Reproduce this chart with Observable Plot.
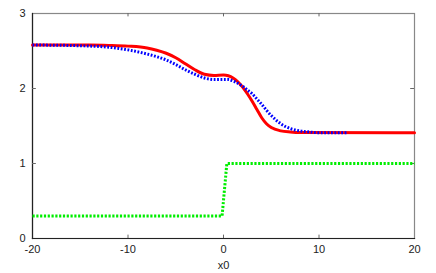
<!DOCTYPE html>
<html>
<head>
<meta charset="utf-8">
<script src="https://cdn.jsdelivr.net/npm/d3@7"></script>
<script src="https://cdn.jsdelivr.net/npm/@observablehq/plot@0.6"></script>
<style>
  html, body { margin: 0; padding: 0; background: #fff; }
</style>
</head>
<body>
<div id="chart"></div>
<script>
const xTicks = [-20, -10, 0, 10, 20];
const yTicks = [0, 1, 2, 3];

const redX = [-20, -14, -12, -10, -8, -7, -6, -5, -4, -3, -2, -1, 0, 0.5, 1, 1.5, 2, 2.5, 3, 3.5, 4, 4.5, 5, 6, 7, 8, 20];
const redY = [2.58, 2.58, 2.575, 2.565, 2.54, 2.51, 2.47, 2.41, 2.33, 2.25, 2.19, 2.175, 2.18, 2.17, 2.14, 2.09, 2.02, 1.93, 1.83, 1.72, 1.61, 1.53, 1.48, 1.435, 1.42, 1.413, 1.41];

const blueX = [-20, -15, -12, -10, -8, -7, -6, -5, -4, -3, -2, -1, 0, 0.5, 1, 1.5, 2, 2.5, 3, 3.5, 4, 4.5, 5, 5.5, 6, 7, 8, 9, 10, 13];
const blueY = [2.58, 2.57, 2.55, 2.515, 2.46, 2.425, 2.38, 2.32, 2.25, 2.19, 2.14, 2.12, 2.12, 2.12, 2.10, 2.07, 2.03, 1.98, 1.93, 1.86, 1.79, 1.71, 1.64, 1.58, 1.53, 1.465, 1.435, 1.42, 1.41, 1.41];

const greenX = [-20, -0.15, 0.35, 20];
const greenY = [0.3, 0.3, 1.0, 1.0];

const toPts = (xs, ys) => xs.map((x, i) => ({x, y: ys[i]}));
const red = toPts(redX, redY);
const blue = toPts(blueX, blueY);
const green = toPts(greenX, greenY);

const chart = Plot.plot({
  width: 436,
  height: 273,
  marginLeft: 32,
  marginRight: 22,
  marginTop: 13,
  marginBottom: 35,
  style: {fontFamily: "Liberation Sans, Arial, sans-serif", fontSize: "11px", color: "#222", background: "#fff"},
  x: {domain: [-20, 20]},
  y: {domain: [0, 3]},
  marks: [
    Plot.frame({stroke: "#888", strokeWidth: 1.2}),
    Plot.frame({anchor: "left", stroke: "#222", strokeWidth: 1.2}),
    Plot.frame({anchor: "bottom", stroke: "#222", strokeWidth: 1.2}),
    Plot.ruleX(xTicks.slice(1, -1), {y1: 0, y2: 0.045, stroke: "#666"}),
    Plot.ruleX(xTicks.slice(1, -1), {y1: 3, y2: 2.955, stroke: "#666"}),
    Plot.ruleY(yTicks.slice(1, -1), {x1: -20, x2: -19.6, stroke: "#666"}),
    Plot.ruleY(yTicks.slice(1, -1), {x1: 20, x2: 19.6, stroke: "#666"}),
    Plot.axisX({ticks: xTicks, tickSize: 0, tickPadding: 7, label: "x0", labelAnchor: "center", labelArrow: "none", labelOffset: 30, tickFormat: d => String(d)}),
    Plot.axisY({ticks: yTicks, tickSize: 0, tickPadding: 7, label: null, tickFormat: d => String(d)}),
    Plot.line(green, {x: "x", y: "y", stroke: "#00ee00", strokeWidth: 3, strokeDasharray: "2.2,1.6", strokeLinecap: "butt", strokeLinejoin: "miter"}),
    Plot.line(red, {x: "x", y: "y", stroke: "#ff0000", strokeWidth: 3, curve: "monotone-x"}),
    Plot.line(blue, {x: "x", y: "y", stroke: "#0000ff", strokeWidth: 3, strokeDasharray: "1.8,1.6", strokeLinecap: "butt", curve: "monotone-x"})
  ]
});
document.getElementById("chart").appendChild(chart);
</script>
</body>
</html>
